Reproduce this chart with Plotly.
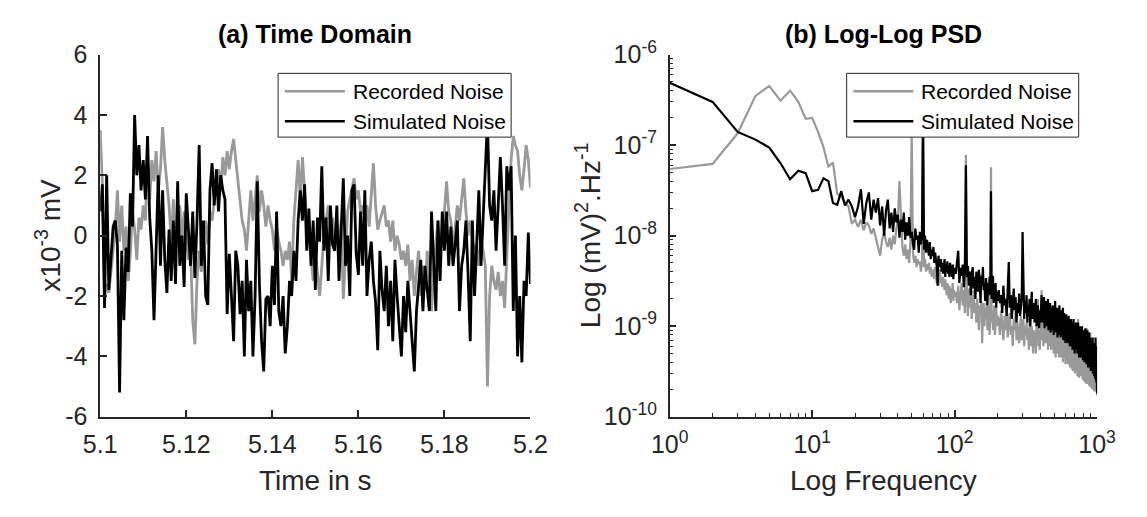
import numpy as np
import plotly.graph_objects as go

# ---------------- data ----------------
t_start, t_end = 5.1, 5.2

recorded_td = [
    3.5, 1.7, -2.0, -1.6, -1.9, -1.2, -0.3, 0.2, 1.5, -0.2,
    1.0, -0.5, 0.3, -1.5, -0.6, 0.8, 0.2, -0.8, 0.6, 0.2,
    1.0, 0.5, 2.5, 1.2, 2.5, 1.8, 2.8, 1.5, 2.2, 3.6,
    2.5, 1.8, 1.0, -0.2, 1.2, -0.5, 0.3, 1.0, -0.2, 0.8,
    0.0, -0.8, -0.5, -2.8, -3.6, -1.5, -0.5, -1.2, 0.0, 0.5,
    -0.3, 0.8, 0.5, 1.2, 1.8, 2.2, 1.5, 2.6, 2.0, 2.8,
    2.2, 2.8, 3.2, 2.5, 1.8, 1.0, 0.5, 0.2, -0.5, 0.5,
    1.5, 0.5, 1.2, 2.0, 0.8, 1.5, 1.0, 0.3, 1.0, 0.5,
    0.2, -0.5, 0.3, -0.2, -0.5, -1.0, -0.5, -0.8, -0.2, -1.5,
    0.5, 1.5, 2.5, 1.2, 2.6, 1.5, 0.5, 0.0, -0.8, -1.5,
    -0.5, -1.2, -2.0, -1.0, 0.0, 0.5, 1.0, 0.3, 0.6, -0.2,
    0.0, -0.5, 0.5, -2.1, -0.5, 0.8, 1.2, 1.5, 1.9, 1.2,
    1.5, 0.8, 1.0, 0.5, 1.0, 0.3, 1.2, 2.4, 1.0, 0.2,
    0.5, 0.8, 1.0, 0.3, 0.5, -0.2, 0.5, -0.5, 0.0, -0.3,
    -0.8, -0.5, -1.0, -0.3, -1.5, -0.8, -2.0, -1.2, -0.5, -2.0,
    -1.0, -1.8, -0.5, -1.5, -2.5, -1.0, -0.3, 0.5, -0.5, 0.0,
    0.8, 1.8, 0.8, 0.5, -0.5, 0.3, 1.0, 0.5, 1.2, 1.9,
    0.8, 0.0, 0.5, -0.2, -0.5, -0.3, -1.0, -0.2, -0.5, -1.0,
    -5.0, -2.0, -1.0, -1.5, -1.8, -1.2, -2.0, -1.5, -2.4, -0.5,
    1.0, 2.5, 3.3, 3.0, 2.8, 2.0, 1.5, 2.2, 3.0, 2.5,
    1.6,
]

simulated_td = [
    0.8, 1.7, -2.4, 2.0, -1.8, -0.6, 0.3, 0.5, -0.3, -5.2,
    -0.5, -2.8, -0.4, -1.2, 1.4, 0.3, 4.0, 2.0, 3.0, 1.5,
    2.5, 1.2, 3.3, 0.6, -0.5, -2.8, -0.7, 2.0, -1.0, 1.5,
    -0.8, -1.9, 0.2, -1.5, 0.5, -1.6, 1.8, -1.0, 0.0, -1.7,
    1.4, 0.0, -1.0, 0.8, -1.4, 0.5, 3.0, -1.0, 0.5, -2.0,
    -2.3, 1.5, 2.4, 1.0, 2.2, 0.8, 2.0, 1.5, 1.2, -2.6,
    -0.6, -2.0, -3.5, -0.5, -1.0, -2.6, -1.5, -4.0, -0.8, -2.5,
    -1.5, -4.0, -2.0, 1.8, -1.6, -3.5, -4.5, -2.1, -2.0, -3.0,
    -1.0, -2.3, 0.8, -2.5, -3.0, -2.0, -3.9, -3.0, -1.5, -2.0,
    -0.5, -1.5, 0.5, 1.5, 0.5, 1.7, -0.5, 0.9, -1.0, 0.5,
    -1.8, 0.6, -0.2, 2.3, -0.5, 0.6, -1.5, 1.0, -0.3, -0.5,
    1.0, -1.5, 0.5, 1.9, -1.0, 0.0, -2.0, 1.5, 1.7, -0.6,
    -1.3, 0.8, -1.0, 1.5, -2.0, -0.8, -0.2, -1.5, -2.2, -3.8,
    -0.5, -1.8, -2.5, -1.0, -3.0, -1.5, -3.5, -0.8, -2.0, -3.2,
    -4.0, -2.0, -3.2, -1.5, -2.5, -3.2, -4.5, -2.5, -1.5, -0.8,
    -2.5, -1.0, -1.8, -2.5, 0.8, -1.0, -2.5, 0.5, -1.5, 0.8,
    -0.5, 0.8, -1.0, 0.3, -1.0, -0.3, 0.5, -2.5, -1.0, -0.5,
    0.5, -1.3, -3.5, 0.5, -2.0, -0.3, 1.5, -1.0, 0.5, 2.3,
    3.8, 1.0, 0.5, 1.5, -0.5, 1.0, 2.6, 1.0, -1.0, 2.3,
    1.5, 2.3, -2.5, 0.0, -4.0, -2.0, -4.2, -1.5, -2.0, 0.1,
    -1.6,
]

# frequency grid (Hz)
freq = (list(range(1, 101)) + list(range(102, 201, 2))
        + list(range(204, 401, 4)) + list(range(404, 1001, 4)))

psd_unit = 1e-10  # values below are in units of 1e-10 (mV)^2/Hz

recorded_psd = [
    # 1..100
    545, 620, 1350, 3500, 4500, 3100, 4000, 3000, 1950, 2000,
    1400, 950, 580, 640, 290, 270, 230, 210, 135, 150,
    125, 150, 115, 140, 130, 105, 120, 95, 80, 60,
    90, 110, 85, 75, 95, 70, 100, 80, 120, 150,
    400, 140, 75, 60, 80, 55, 70, 50, 90, 1500,
    65, 50, 60, 45, 55, 48, 52, 40, 50, 1000,
    45, 55, 40, 48, 42, 50, 38, 45, 35, 42,
    40, 33, 45, 35, 30, 38, 28, 36, 42, 30,
    34, 27, 35, 30, 25, 33, 28, 22, 30, 26,
    20, 28, 24, 18, 26, 22, 30, 19, 25, 21,
    # 102..200 step 2
    24, 18, 28, 15, 22, 30, 17, 25, 14, 780,
    20, 13, 26, 16, 22, 12, 19, 25, 14, 18,
    11, 20, 15, 9, 17, 13, 19, 6.5, 14, 18,
    10, 16, 12, 20, 9, 14, 17, 8, 13, 570,
    11, 15, 9, 13, 17, 8, 12, 16, 10, 13,
    # 204..400 step 4
    12, 8, 15, 10, 7, 13, 9, 16, 7.5, 11,
    14, 8, 10, 6, 12, 9, 15, 7, 11, 8,
    6.5, 10, 13, 7, 9, 12, 6, 10, 8, 11,
    7, 9.5, 5.5, 12, 8, 6, 10, 7.5, 5, 9,
    6.5, 8.5, 5, 11, 7, 20, 6, 9, 5.5, 8,
    # 404..1000 step 4
    9, 25, 7, 12, 6, 11, 8.5, 14, 6.5, 10,
    7, 13, 5.5, 9, 11, 6, 8, 12, 5.5, 9.5,
    6, 10, 7.5, 5, 12, 6.5, 8.5, 4.5, 9, 11,
    5, 8, 6, 10, 4.5, 7.5, 11, 5, 6.5, 4.5,
    8.5, 5.5, 9, 4, 7, 10, 4.5, 6, 8, 3.8,
    7, 5, 9.5, 4.2, 6, 3.8, 8, 5.5, 4, 6.5,
    3.5, 7.5, 5, 9, 3.4, 6, 4.5, 7, 3.2, 5.5,
    8, 3.5, 5, 6.5, 3, 4.8, 7.5, 3.3, 5.5, 4,
    6, 2.8, 4.5, 12, 3.5, 5.2, 2.7, 6.5, 4, 3,
    5.5, 3.2, 7, 2.8, 4.5, 3.5, 6, 2.6, 4.2, 5,
    2.5, 4.8, 3.2, 6, 2.4, 4, 5.5, 2.8, 3.6, 2.3,
    4.5, 3, 9.5, 2.6, 3.8, 5, 2.3, 4.2, 3, 2.2,
    5, 2.5, 3.6, 8.5, 2.1, 3.2, 4.5, 2.4, 3.8, 2.2,
    3.5, 2, 4.2, 2.6, 3, 5.5, 2.1, 3.4, 1.9, 2.8,
    2.3, 3.6, 1.9, 3, 2.2, 4, 1.8, 2.6, 2, 1.7,
]

simulated_psd = [
    # 1..100
    4900, 3000, 1400, 1150, 940, 630, 420, 520, 490, 310,
    320, 430, 400, 230, 220, 310, 215, 250, 210, 160,
    210, 325, 135, 230, 300, 150, 250, 180, 260, 130,
    210, 100, 190, 250, 120, 180, 110, 200, 140, 170,
    95, 150, 110, 180, 90, 140, 100, 160, 95, 110,
    80, 70, 120, 90, 100, 65, 110, 80, 95, 3000,
    70, 100, 65, 90, 75, 60, 85, 55, 70, 60,
    75, 50, 65, 55, 45, 28, 60, 50, 45, 55,
    40, 50, 38, 45, 55, 35, 48, 40, 52, 38,
    45, 35, 50, 40, 42, 35, 48, 33, 44, 40,
    # 102..200 step 2
    38, 52, 68, 30, 44, 36, 48, 27, 42, 600,
    35, 46, 28, 40, 22, 38, 45, 26, 35, 20,
    40, 30, 24, 42, 32, 18, 36, 28, 45, 25,
    30, 19, 34, 26, 17, 30, 24, 35, 22, 310,
    20, 28, 36, 18, 26, 21, 30, 16, 24, 19,
    # 204..400 step 4
    25, 18, 22, 14, 28, 17, 20, 13, 24, 51,
    16, 22, 12, 19, 26, 15, 21, 11, 18, 14,
    23, 13, 17, 20, 110, 15, 12, 19, 14, 22,
    11, 17, 13, 20, 10, 16, 24, 12, 15, 18,
    11, 14, 20, 10, 13, 17, 12, 9.5, 15, 11,
    # 404..1000 step 4
    15, 22, 11, 18, 12.5, 21, 9.5, 16, 12, 19,
    10, 14, 20, 9, 15, 11, 18, 8.5, 13, 16,
    9, 17, 12, 8, 15, 10.5, 19, 8.5, 13, 11,
    16, 7.5, 12, 14, 8, 17, 9.5, 12.5, 7.5, 15,
    10, 8, 13, 16, 7, 11, 14, 8.5, 12, 6.5,
    11, 13.5, 7, 10, 12.5, 6.5, 9.5, 13, 7.5, 10,
    6, 11.5, 8.5, 12, 6, 9, 11, 5.5, 10, 7.5,
    12, 6.5, 9, 5, 10.5, 8, 6, 11, 5.5, 8.5,
    10, 5, 8, 11, 6, 9.5, 4.5, 8, 10, 5.5,
    7.5, 9.5, 4.5, 8.5, 6, 10, 5, 7, 4.2, 8,
    9, 5, 7.5, 4, 8.5, 6, 9.5, 4.5, 7, 5.5,
    3.8, 8, 5.5, 9, 4, 6.5, 3.5, 7.5, 5, 8.5,
    4.5, 6.5, 3.5, 7.5, 5, 3.2, 6.5, 4.2, 7, 3.5,
    6, 4, 7.5, 3, 5.5, 6.5, 3.2, 5, 2.8, 6.5,
    3.5, 5.5, 2.6, 7.5, 3.2, 4.5, 2.4, 6, 3, 1.8,
]

series_names = ["Recorded Noise", "Simulated Noise"]
time_ticks = [5.1, 5.12, 5.14, 5.16, 5.18, 5.2]
time_ticktext = ["5.1", "5.12", "5.14", "5.16", "5.18", "5.2"]
amp_ticks = [-6, -4, -2, 0, 2, 4, 6]
freq_ticks = [1, 10, 100, 1000]
freq_ticktext = ["10<sup>0</sup>", "10<sup>1</sup>", "10<sup>2</sup>", "10<sup>3</sup>"]
psd_ticks = [1e-10, 1e-9, 1e-8, 1e-7, 1e-6]
psd_ticktext = ["10<sup>-10</sup>", "10<sup>-9</sup>", "10<sup>-8</sup>",
                "10<sup>-7</sup>", "10<sup>-6</sup>"]

# ---------------- styling ----------------
W, H = 1147, 517
GRAY = "#999999"
BLACK = "#000000"
AX = "#262626"
FONT = "Liberation Sans, Arial, Helvetica, sans-serif"


def px(x):
    return x / W


def py(y):
    return 1 - y / H


t = np.linspace(t_start, t_end, len(recorded_td))
t_sim = np.linspace(t_start, t_end, len(simulated_td))
rec_psd = np.array(recorded_psd) * psd_unit
sim_psd = np.array(simulated_psd) * psd_unit

fig = go.Figure()
fig.add_trace(go.Scatter(x=t, y=recorded_td, mode="lines", name=series_names[0],
                         line=dict(color=GRAY, width=2.8), xaxis="x", yaxis="y",
                         showlegend=False))
fig.add_trace(go.Scatter(x=t_sim, y=simulated_td, mode="lines", name=series_names[1],
                         line=dict(color=BLACK, width=2.8), xaxis="x", yaxis="y",
                         showlegend=False))
fig.add_trace(go.Scatter(x=freq, y=rec_psd, mode="lines", name=series_names[0],
                         line=dict(color=GRAY, width=2.2), xaxis="x2", yaxis="y2",
                         showlegend=False))
fig.add_trace(go.Scatter(x=freq, y=sim_psd, mode="lines", name=series_names[1],
                         line=dict(color=BLACK, width=2.2), xaxis="x2", yaxis="y2",
                         showlegend=False))

minor_freq = [m * 10 ** e for e in range(0, 3) for m in range(2, 10)]
minor_psd = [m * 10.0 ** e for e in range(-10, -6) for m in range(2, 10)]

tickfont = dict(family=FONT, size=25, color=AX)
common = dict(showline=True, linecolor=AX, linewidth=1.5, showgrid=False,
              zeroline=False, ticks="inside", tickcolor=AX, tickwidth=1.5,
              ticklen=7, tickfont=tickfont, mirror=False)

L_X0, L_X1 = 84, 529
R_X0, R_X1 = 673, 1115
Y_TOP, Y_BOT = 39, 425

fig.update_layout(
    width=W, height=H,
    margin=dict(l=0, r=0, t=0, b=0),
    paper_bgcolor="white", plot_bgcolor="white",
    showlegend=False,
    xaxis=dict(domain=[px(L_X0), px(L_X1)], range=[5.1, 5.2], anchor="y",
               tickmode="array", tickvals=time_ticks, ticktext=time_ticktext,
               ticklabelstandoff=5, **common),
    yaxis=dict(domain=[py(Y_BOT), py(Y_TOP)], range=[-6, 6], anchor="x",
               tickmode="array", tickvals=amp_ticks,
               ticktext=[str(v) for v in amp_ticks],
               ticklabelstandoff=6, **common),
    xaxis2=dict(type="log", domain=[px(R_X0), px(R_X1)], range=[0, 3], anchor="y2",
                tickmode="array", tickvals=freq_ticks, ticktext=freq_ticktext,
                ticklabelstandoff=5,
                minor=dict(tickmode="array", tickvals=minor_freq, ticks="inside",
                           ticklen=4, tickcolor=AX, tickwidth=1.2, showgrid=False),
                **common),
    yaxis2=dict(type="log", domain=[py(Y_BOT), py(Y_TOP)], range=[-10, -6], anchor="x2",
                tickmode="array", tickvals=psd_ticks, ticktext=psd_ticktext,
                ticklabelstandoff=6,
                minor=dict(tickmode="array", tickvals=minor_psd, ticks="inside",
                           ticklen=4, tickcolor=AX, tickwidth=1.2, showgrid=False),
                **common),
)

annotations = []
shapes = []

# titles
for cx, txt in [((L_X0 + L_X1) / 2, "<b>(a) Time Domain</b>"),
                ((R_X0 + R_X1) / 2, "<b>(b) Log-Log PSD</b>")]:
    annotations.append(dict(x=px(cx), y=py(17), xref="paper", yref="paper",
                            text=txt, showarrow=False, xanchor="center", yanchor="middle",
                            font=dict(family=FONT, size=25, color="#000000")))
# axis titles
annotations.append(dict(x=px((L_X0 + L_X1) / 2), y=py(493), xref="paper", yref="paper",
                        text="Time in s", showarrow=False, xanchor="center",
                        yanchor="middle", font=dict(family=FONT, size=28, color=AX)))
annotations.append(dict(x=px((R_X0 + R_X1) / 2), y=py(493), xref="paper", yref="paper",
                        text="Log Frequency", showarrow=False, xanchor="center",
                        yanchor="middle", font=dict(family=FONT, size=28, color=AX)))
annotations.append(dict(x=px(30), y=py(232), xref="paper", yref="paper",
                        text="x10<sup>-3</sup> mV", showarrow=False, textangle=-90,
                        xanchor="center", yanchor="middle",
                        font=dict(family=FONT, size=28, color=AX)))
annotations.append(dict(x=px(588), y=py(232), xref="paper", yref="paper",
                        text="Log (mV)<sup>2</sup>.Hz<sup>-1</sup>", showarrow=False,
                        textangle=-90, xanchor="center", yanchor="middle",
                        font=dict(family=FONT, size=28, color=AX)))

# legends (drawn as boxes with line samples)
for bx0, bx1 in [(268, 509), (856, 1096)]:
    shapes.append(dict(type="rect", xref="paper", yref="paper", layer="above",
                       x0=px(bx0), x1=px(bx1), y0=py(127), y1=py(59),
                       fillcolor="white", line=dict(color=AX, width=1)))
    for k, (name, col) in enumerate(zip(series_names, [GRAY, BLACK])):
        ly = 78 + k * 32
        shapes.append(dict(type="line", xref="paper", yref="paper", layer="above",
                           x0=px(bx0 + 7), x1=px(bx0 + 69), y0=py(ly), y1=py(ly),
                           line=dict(color=col, width=2.5)))
        annotations.append(dict(x=px(bx0 + 75), y=py(ly), xref="paper", yref="paper",
                                text=name, showarrow=False, xanchor="left",
                                yanchor="middle",
                                font=dict(family=FONT, size=21, color="#000000")))

fig.update_layout(annotations=annotations, shapes=shapes)
fig.write_html("out.html")
